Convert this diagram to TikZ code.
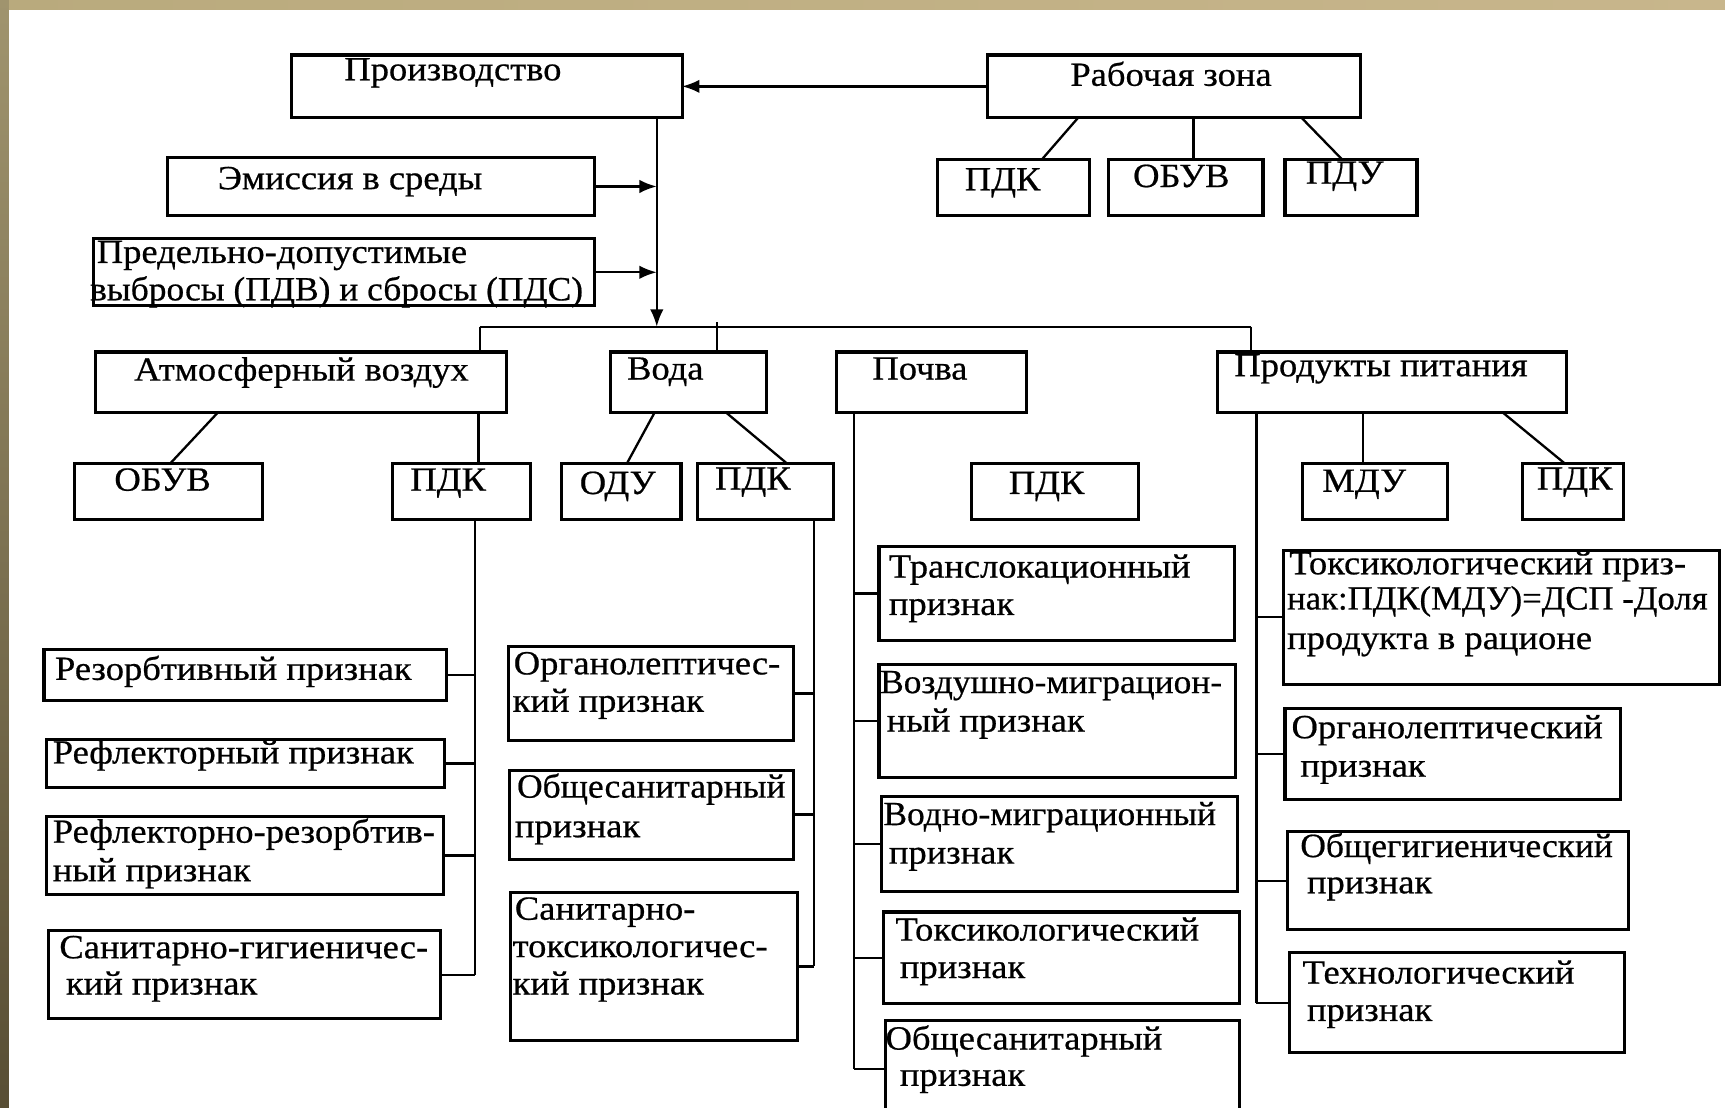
\documentclass[tikz,border=0pt]{standalone}
\usepackage{fontspec}
\setmainfont{Liberation Serif}[FakeStretch=1.08,FakeBold=0.6]
\usetikzlibrary{arrows.meta,calc}
\definecolor{bandtop}{RGB}{200,182,140}
\definecolor{bandtopL}{RGB}{185,170,125}
\definecolor{bandlefttop}{RGB}{160,148,110}
\definecolor{bandleftbot}{RGB}{88,78,52}
\newcommand\bx[5]{\node[box,minimum width={(#4-#2)*0.02cm},minimum height={(#5-#3)*0.02cm}] (#1) at ({(#2+#4)/2},{(#3+#5)/2}) {};}
\newcommand\tx[4]{\node[txt,anchor=base west] (#1) at (#2,#3) {#4};}
\begin{document}
\begin{tikzpicture}[x=0.02cm,y=-0.02cm,
  box/.style={draw,line width=1.6pt,rectangle,inner sep=0pt,outer sep=0pt,fill=white},
  txt/.style={inner sep=0pt,outer sep=0pt,font=\fontsize{17.5}{20}\selectfont},
  ln/.style={line width=1.2pt},
  arr/.style={ln,-{Latex[length=9pt,width=7pt]}}]
\useasboundingbox (0,0) rectangle (1568,1007);
\clip (0,0) rectangle (1568,1007);
\fill[white] (0,0) rectangle (1568,1007);
\shade[left color=bandtopL,right color=bandtop] (0,0) rectangle (1568,9);
\shade[top color=bandlefttop,bottom color=bandleftbot] (0,0) rectangle (8,1007);

% ---------- boxes ----------
\bx{prod}{265}{50}{620}{107}
\bx{rz}{898}{50}{1237}{107}
\bx{rzpdk}{852}{145}{990}{196}
\bx{rzobuv}{1008}{145}{1148}{196}
\bx{rzpdu}{1168}{145}{1288}{196}
\bx{emis}{152}{143}{540}{196}
\bx{pdv}{85}{217}{540}{278}

\bx{air}{87}{320}{460}{375}
\bx{water}{555}{320}{697}{375}
\bx{soil}{760}{320}{933}{375}
\bx{food}{1107}{320}{1424}{375}

\bx{airobuv}{68}{421}{239}{472}
\bx{airpdk}{357}{421}{482}{472}
\bx{odu}{510}{421}{619}{472}
\bx{wpdk}{634}{421}{758}{472}
\bx{spdk}{883}{421}{1035}{472}
\bx{mdu}{1184}{421}{1316}{472}
\bx{fpdk}{1384}{421}{1476}{472}

\bx{a1}{40}{590}{406}{637}
\bx{a2}{42}{672}{404}{716}
\bx{a3}{42}{742}{403}{813}
\bx{a4}{44}{846}{400}{926}

\bx{w1}{462}{588}{721}{673}
\bx{w2}{463}{700}{721}{781}
\bx{w3}{464}{811}{725}{946}

\bx{s1}{799}{497}{1122}{582}
\bx{s2}{799}{604}{1123}{707}
\bx{s3}{801}{724}{1125}{810}
\bx{s4}{803}{829}{1127}{912}
\bx{s5}{805}{928}{1127}{1015}

\bx{f1}{1167}{500}{1563}{622}
\bx{f2}{1168}{644}{1473}{727}
\bx{f3}{1170}{756}{1480}{845}
\bx{f4}{1172}{866}{1477}{957}

% ---------- texts ----------
\tx{tprod}{313}{73}{Производство}
\tx{trz}{973}{78}{Рабочая зона}
\tx{trzpdk}{877}{173}{ПДК}
\tx{trzobuv}{1030}{170}{ОБУВ}
\tx{trzpdu}{1187}{167}{ПДУ}
\tx{temis}{198}{172}{Эмиссия в среды}
\tx{tpdv1}{88}{239}{Предельно-допустимые}
\tx{tpdv2}{82}{273}{\scalebox{0.97}[1]{выбросы (ПДВ) и сбросы (ПДС)}}

\tx{tair}{122}{346}{Атмосферный воздух}
\tx{twater}{570}{345}{Вода}
\tx{tsoil}{793}{345}{Почва}
\tx{tfood}{1122}{342}{Продукты питания}

\tx{tairobuv}{104}{446}{ОБУВ}
\tx{tairpdk}{373}{446}{ПДК}
\tx{todu}{527}{449}{ОДУ}
\tx{twpdk}{650}{445}{ПДК}
\tx{tspdk}{917}{449}{ПДК}
\tx{tmdu}{1202}{447}{МДУ}
\tx{tfpdk}{1397}{445}{ПДК}

\tx{ta1}{50}{618}{Резорбтивный признак}
\tx{ta2}{48}{694}{Рефлекторный признак}
\tx{ta3a}{48}{766}{Рефлекторно-резорбтив-}
\tx{ta3b}{48}{801}{ный признак}
\tx{ta4a}{54}{871}{Санитарно-гигиеничес-}
\tx{ta4b}{60}{904}{кий признак}

\tx{tw1a}{467}{613}{Органолептичес-}
\tx{tw1b}{466}{647}{кий признак}
\tx{tw2a}{470}{725}{\scalebox{0.97}[1]{Общесанитарный}}
\tx{tw2b}{468}{761}{признак}
\tx{tw3a}{468}{836}{Санитарно-}
\tx{tw3b}{466}{870}{токсикологичес-}
\tx{tw3c}{466}{904}{кий признак}

\tx{ts1a}{808}{525}{Транслокационный}
\tx{ts1b}{808}{559}{признак}
\tx{ts2a}{800}{630}{\scalebox{0.97}[1]{Воздушно-миграцион-}}
\tx{ts2b}{806}{665}{ный признак}
\tx{ts3a}{803}{750}{\scalebox{0.97}[1]{Водно-миграционный}}
\tx{ts3b}{808}{785}{признак}
\tx{ts4a}{814}{855}{Токсикологический}
\tx{ts4b}{818}{889}{признак}
\tx{ts5a}{805}{954}{Общесанитарный}
\tx{ts5b}{818}{987}{признак}

\tx{tf1a}{1172}{522}{Токсикологический приз-}
\tx{tf1b}{1170}{554}{\scalebox{0.95}[1]{нак:ПДК(МДУ)=ДСП -Доля}}
\tx{tf1c}{1170}{590}{продукта в рационе}
\tx{tf2a}{1174}{671}{Органолептический}
\tx{tf2b}{1182}{706}{признак}
\tx{tf3a}{1182}{779}{\scalebox{0.97}[1]{Общегигиенический}}
\tx{tf3b}{1188}{812}{признак}
\tx{tf4a}{1184}{894}{Технологический}
\tx{tf4b}{1188}{928}{признак}

% ---------- connectors ----------
\draw[arr] (rz.west) -- (prod.east);
\draw[ln] ($(rz.south west)+(82,0)$) -- ($(rzpdk.north west)+(95,0)$);
\draw[ln] ($(rz.south west)+(187,0)$) -- ($(rzobuv.north west)+(77,0)$);
\draw[ln] ($(rz.south west)+(285,0)$) -- ($(rzpdu.north west)+(52,0)$);

\coordinate (bj) at (597,297);
\coordinate (busL) at (436,297);
\coordinate (busR) at (1137,297);
\coordinate (wtop) at (652,293);
\draw[ln] (busL) -- (busR);
\draw[arr] ($(prod.south west)+(332,0)$) -- (bj);
\draw[arr] (emis.east) -- (emis.east -| bj);
\draw[arr] (pdv.east) -- (pdv.east -| bj);
\draw[ln] (busL) -- (busL |- air.north);
\draw[ln] (wtop) -- (wtop |- water.north);
\draw[ln] (busR) -- (busR |- food.north);

% air
\draw[ln] ($(air.south west)+(111,0)$) -- ($(airobuv.north west)+(87,0)$);
\draw[ln] ($(air.south west)+(348,0)$) -- ($(airpdk.north west)+(78,0)$);
\coordinate (at) at ($(airpdk.south west)+(75,0)$);
\draw[ln] (at) -- (at |- a4.east);
\foreach \n in {a1,a2,a3,a4} \draw[ln] (\n.east) -- (\n.east -| at);

% water
\draw[ln] ($(water.south west)+(40,0)$) -- ($(odu.north west)+(60,0)$);
\draw[ln] ($(water.south west)+(105,0)$) -- ($(wpdk.north west)+(81,0)$);
\coordinate (wt) at ($(wpdk.south west)+(106,0)$);
\draw[ln] (wt) -- (wt |- w3.east);
\foreach \n in {w1,w2,w3} \draw[ln] (\n.east) -- (\n.east -| wt);

% soil
\coordinate (st) at ($(soil.south west)+(16,0)$);
\draw[ln] (st) -- (st |- s5.west);
\foreach \n in {s1,s2,s3,s4,s5} \draw[ln] (\n.west) -- (\n.west -| st);

% food
\coordinate (ft) at ($(food.south west)+(35,0)$);
\draw[ln] (ft) -- (ft |- f4.west);
\foreach \n in {f1,f2,f3,f4} \draw[ln] (\n.west) -- (\n.west -| ft);
\draw[ln] ($(food.south west)+(132,0)$) -- ($(mdu.north west)+(55,0)$);
\draw[ln] ($(food.south west)+(259,0)$) -- ($(fpdk.north west)+(38,0)$);
\end{tikzpicture}
\end{document}
